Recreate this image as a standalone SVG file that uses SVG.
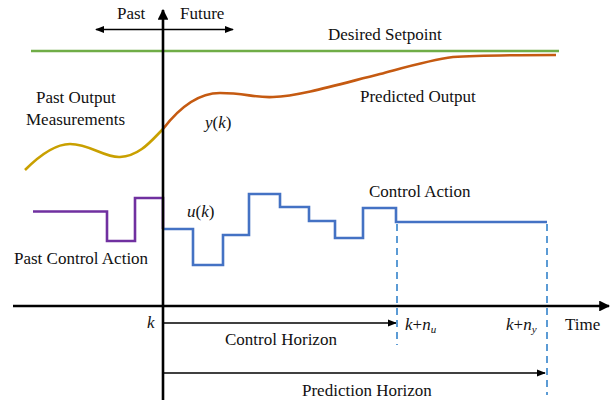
<svg xmlns="http://www.w3.org/2000/svg" width="612" height="404" viewBox="0 0 612 404">
<style>
text{font-family:"Liberation Serif","Times New Roman",serif;font-size:17px;fill:#111}
.it{font-style:italic}
.up{font-style:normal}
.axis{stroke:#000;stroke-width:2.6;fill:none}
.thin{stroke:#000;stroke-width:1.3;fill:none}
.dash{stroke:#5B9BD5;stroke-width:2;stroke-dasharray:7 5;fill:none}
</style>
<defs>
<marker id="big" viewBox="0 0 10 10" refX="9" refY="5" markerWidth="4.2" markerHeight="4.2" orient="auto" markerUnits="strokeWidth"><path d="M0,0L10,5L0,10z" fill="#000"/></marker>
<marker id="sm" viewBox="0 0 10 10" refX="9" refY="5" markerWidth="7" markerHeight="7" orient="auto-start-reverse" markerUnits="strokeWidth"><path d="M0,1L10,5L0,9z" fill="#000"/></marker>
</defs>
<rect width="612" height="404" fill="#fff"/>
<g id="setpoint">
<line x1="31" y1="51" x2="559" y2="51" stroke="#70AD47" stroke-width="2.6"/>
<text x="328" y="40">Desired Setpoint</text>
</g>
<g id="past-output">
<path d="M25,170 C40,155 55,144 70,144 C90,144 105,158 120,157 C140,156 152,140 163,129" stroke="#C9A000" stroke-width="2.6" fill="none"/>
<text x="36" y="103">Past Output</text>
<text x="26" y="125">Measurements</text>
</g>
<g id="predicted-output">
<path d="M163,129 C176,112 195,93 220,93 C245,93 255,98 273,97 C300,96 340,84 380,74 C410,66 430,60 453,57 C480,55 520,55 556,55" stroke="#C55A11" stroke-width="2.6" fill="none"/>
<text x="360" y="102">Predicted Output</text>
<text x="205" y="128" class="it">y<tspan class="up">(</tspan>k<tspan class="up">)</tspan></text>
</g>
<g id="past-control">
<path d="M33,211.5 H107 V241 H135 V198 H163 V229" stroke="#7030A0" stroke-width="2.6" fill="none"/>
<text x="14" y="264">Past Control Action</text>
</g>
<g id="control-action">
<path d="M163,229 H193 V265 H223 V235 H249 V194 H280 V207 H309 V221 H335 V238 H363 V208 H396 V222 H547" stroke="#4472C4" stroke-width="2.6" fill="none"/>
<text x="369" y="197">Control Action</text>
<text x="187" y="217" class="it">u<tspan class="up">(</tspan>k<tspan class="up">)</tspan></text>
</g>
<g id="connectors">
<line x1="163" y1="400" x2="163" y2="10" class="axis" marker-end="url(#big)"/>
<line x1="13" y1="306" x2="609" y2="306" class="axis" marker-end="url(#big)"/>
<line x1="96" y1="29.5" x2="233" y2="29.5" class="thin" marker-start="url(#sm)" marker-end="url(#sm)"/>
<line x1="163" y1="323" x2="396" y2="323" class="thin" marker-end="url(#sm)"/>
<line x1="163" y1="373" x2="545" y2="373" class="thin" marker-end="url(#sm)"/>
<line x1="397" y1="224" x2="397" y2="345" class="dash"/>
<line x1="547" y1="224" x2="547" y2="395" class="dash"/>
</g>
<g id="labels">
<text x="117" y="19">Past</text>
<text x="180" y="19">Future</text>
<text x="147" y="328" class="it">k</text>
<text x="225" y="345">Control Horizon</text>
<text x="302" y="396">Prediction Horizon</text>
<text x="405" y="330" class="it">k<tspan class="up">+</tspan>n<tspan font-size="11" dy="3">u</tspan></text>
<text x="506" y="330" class="it">k<tspan class="up">+</tspan>n<tspan font-size="11" dy="3">y</tspan></text>
<text x="565" y="330">Time</text>
</g>
</svg>
